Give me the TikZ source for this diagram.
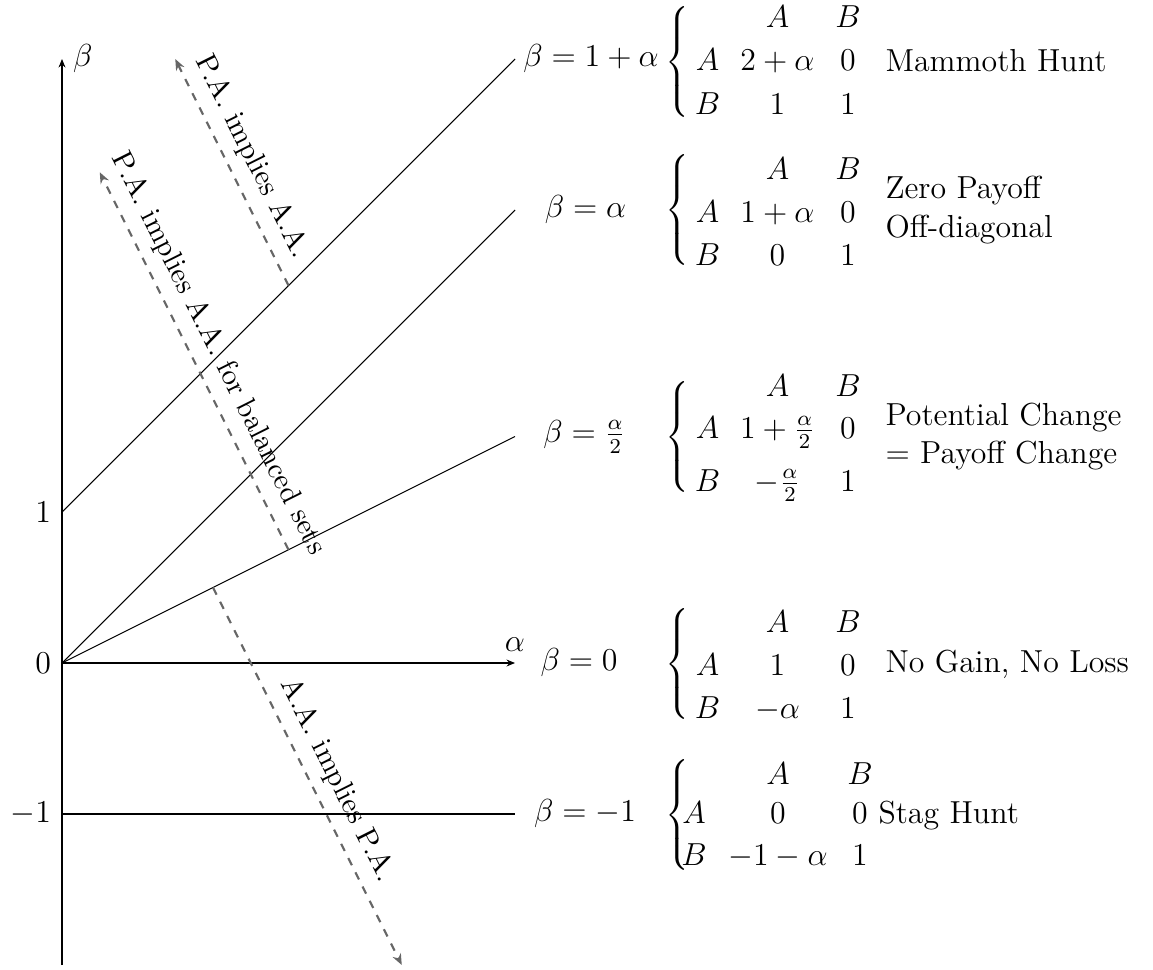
\documentclass[12pt,tikz,border=0pt]{standalone}
\usetikzlibrary{arrows.meta}
\tikzset{
  axis/.style={black, -{Stealth[length=3.2pt,width=2.6pt]}},
  implarrow/.style={draw=black!60, thick, dashed, -{Stealth[length=4.2pt,width=3.4pt]}},
  impllabel/.style={sloped, above, text=black, font=\small},
  cell/.style={anchor=base, inner sep=0pt},
  bracenode/.style={inner sep=0pt, anchor=center},
  desc/.style={anchor=west, inner sep=0pt, align=left},
  betalab/.style={anchor=center, inner sep=0pt},
}
\newcommand\bracebox{\fontsize{10}{12}\selectfont$\delimiterfactor=1000 \delimitershortfall=0pt \nulldelimiterspace=0pt \left\{\vrule height 23pt depth 18pt width 0pt\right.$}
\def\cL{707.5}
\def\cI{777.5}
\def\cII{848}
% #1 prefix, #2 header baseline, #3 row A baseline, #4 row B baseline, #5..#8 entries
\newcommand\payoff[8]{%
  \node[cell] (#1h1) at (\cI,#2) {$A$};
  \node[cell] (#1h2) at (\cII,#2) {$B$};
  \node[cell] (#1r1) at (\cL,#3) {$A$};
  \node[cell] (#1a) at (\cI,#3) {$#5$};
  \node[cell] (#1b) at (\cII,#3) {$#6$};
  \node[cell] (#1r2) at (\cL,#4) {$B$};
  \node[cell] (#1c) at (\cI,#4) {$#7$};
  \node[cell] (#1d) at (\cII,#4) {$#8$};
}
\begin{document}
\begin{tikzpicture}[x=0.37685pt, y=-0.37685pt]
\useasboundingbox (0,0) rectangle (1153,969);
% named points
\coordinate (O) at (62,663);
\coordinate (Y1) at (62,512);
\coordinate (Ym1) at (62,814);
\coordinate (Ybot) at (62,965);
\coordinate (Ytop) at (62,59);
\coordinate (Xend) at (515,663);
\coordinate (L1end) at (515,59);
\coordinate (L2end) at (515,210);
\coordinate (L3end) at (515,436.5);
\coordinate (L4end) at (515,814);
\coordinate (d1s) at (288.5,285.5);
\coordinate (d1e) at (175.25,59);
\coordinate (d2s) at (288.5,549.75);
\coordinate (d2e) at (99.75,172.25);
\coordinate (d3s) at (213,587.5);
\coordinate (d3e) at (401.75,965);
% axes
\draw[axis] (Ybot) -- (Ytop) node[right] (betaax) {$\beta$};
\draw[axis] (O) -- (Xend) node[above] (alphaax) {$\alpha$};
\node[left] (tick1) at (Y1) {$1$};
\node[left] (tick0) at (O) {$0$};
\node[left] (tickm1) at (Ym1) {$-1$};
% lines
\draw (Y1) -- (L1end);
\draw (O) -- (L2end);
\draw (O) -- (L3end);
\draw (Ym1) -- (L4end);
% implication arrows
\draw[implarrow] (d1s) -- node[impllabel, pos=0.52] (lab1) {P.A. implies A.A.} (d1e);
\draw[implarrow] (d2s) -- node[impllabel, pos=0.49] (lab2) {P.A. implies A.A. for balanced sets} (d2e);
\draw[implarrow] (d3s) -- node[impllabel, pos=0.54] (lab3) {A.A. implies P.A.} (d3e);
% group 1
\node[betalab] (b1) at (591,59) {$\beta = 1+\alpha$};
\node[bracenode] (br1) at (677,62) {\bracebox};
\payoff{g1}{28}{71}{114}{2+\alpha}{0}{1}{1}
\node[desc] (ds1) at (885,61) {Mammoth Hunt};
% group 2
\node[betalab] (b2) at (585.5,210) {$\beta = \alpha$};
\node[bracenode] (br2) at (677,210) {\bracebox};
\payoff{g2}{179}{222}{265}{1+\alpha}{0}{0}{1}
\node[desc] (ds2) at (885,210) {Zero Payoff\\Off-diagonal};
% group 3
\node[betalab] (b3) at (584.5,436.5) {$\beta = \frac{\alpha}{2}$};
\node[bracenode] (br3) at (677,437) {\bracebox};
\payoff{g3}{396}{438}{491}{1+\frac{\alpha}{2}}{0}{-\frac{\alpha}{2}}{1}
\node[desc] (ds3) at (885,436.5) {Potential Change\\= Payoff Change};
% group 4
\node[betalab] (b4) at (579,663) {$\beta = 0$};
\node[bracenode] (br4) at (677,664) {\bracebox};
\payoff{g4}{632}{675}{718}{1}{0}{-\alpha}{1}
\node[desc] (ds4) at (885,664) {No Gain, No Loss};
% group 5
\node[betalab] (b5) at (585,814) {$\beta = -1$};
\node[bracenode] (br5) at (677.5,815) {\bracebox};
\node[cell] (g5h1) at (778,784) {$A$};
\node[cell] (g5h2) at (860,784) {$B$};
\node[cell] (g5r1) at (694,823) {$A$};
\node[cell] (g5a) at (778,823) {$0$};
\node[cell] (g5b) at (860,823) {$0$};
\node[cell] (g5r2) at (694,865) {$B$};
\node[cell] (g5c) at (778,865) {$-1-\alpha$};
\node[cell] (g5d) at (860,865) {$1$};
\node[desc] (ds5) at (878,816) {Stag Hunt};
\end{tikzpicture}
\end{document}
